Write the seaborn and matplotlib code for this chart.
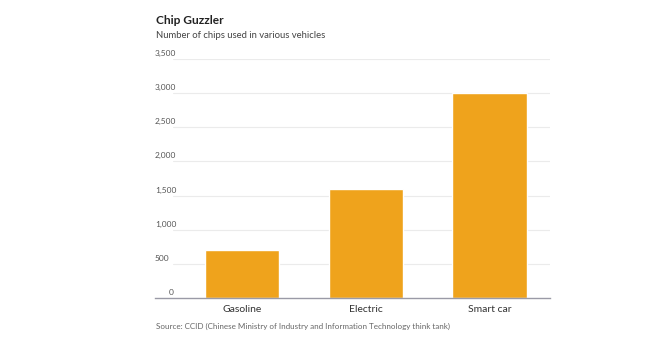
import matplotlib
matplotlib.use("Agg")
import matplotlib.pyplot as plt
import matplotlib.transforms as mtransforms
import seaborn as sns
import pandas as pd

categories = ["Gasoline", "Electric", "Smart car"]
chips = [700, 1600, 3000]
yticks = [0, 500, 1000, 1500, 2000, 2500, 3000, 3500]
ytick_labels = ["0", "500", "1,000", "1,500", "2,000", "2,500", "3,000", "3,500"]

sns.set_theme(style="white")
plt.rcParams['font.family'] = ['Lato', 'DejaVu Sans']

df = pd.DataFrame({"vehicle": categories, "chips": chips})

fig = plt.figure(figsize=(6.6, 3.41), dpi=100)
ax = fig.add_axes([155/660, 1-298/341, 395/660, (298-59)/341])

sns.barplot(data=df, x="vehicle", y="chips", color="#EFA31C", saturation=1,
            width=0.6, ax=ax, zorder=3)

ax.set_xlim(-0.705, 2.49)
ax.set_ylim(0, 3500)
ax.set_xlabel("")
ax.set_ylabel("")
ax.set_yticks([])
for s in ["top", "right", "left"]:
    ax.spines[s].set_visible(False)
ax.spines["bottom"].set_color("#9a9aa6")
ax.spines["bottom"].set_linewidth(1.0)
ax.spines["bottom"].set_zorder(4)

trans = mtransforms.blended_transform_factory(ax.transAxes, ax.transData)
for v, lab in zip(yticks, ytick_labels):
    if v > 0:
        ax.plot([18/395, 1], [v, v], transform=trans, color="#ebebeb", lw=0.8, zorder=1)
    ax.text(0.0 if v > 0 else 0.035, v + 30, lab, transform=trans, fontsize=6,
            color="#555555", ha="left", va="bottom")

ax.tick_params(axis="x", length=0, labelsize=7.5, labelcolor="#333333", pad=5)

fig.text(156/660, 1-20/341, "Chip Guzzler", fontsize=8.6, fontweight="bold",
         color="#222222", ha="left", va="center")
fig.text(156/660, 1-35/341, "Number of chips used in various vehicles", fontsize=6.8,
         color="#444444", ha="left", va="center")
fig.text(156/660, 1-326/341,
         "Source: CCID (Chinese Ministry of Industry and Information Technology think tank)",
         fontsize=5.8, color="#666666", ha="left", va="center")

fig.savefig("out.png", dpi=100, facecolor="white")
